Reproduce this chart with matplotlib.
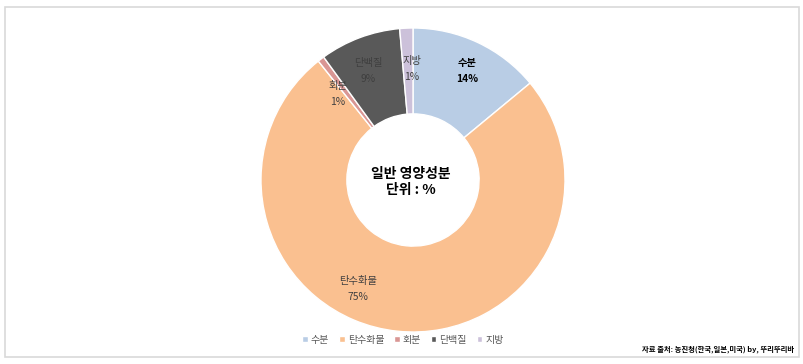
import matplotlib
matplotlib.use("Agg")
import matplotlib.pyplot as plt
from matplotlib.patches import Rectangle

plt.rcParams['font.family'] = ['Noto Sans CJK KR', 'DejaVu Sans']

# data
labels = ['수분', '탄수화물', '회분', '단백질', '지방']
values = [14, 75.3, 0.7, 8.6, 1.4]
colors = ['#B9CDE5', '#FAC090', '#D99694', '#595959', '#CCC1DA']
center_title = '일반 영양성분\n단위 : %'
source = '자료 출처: 농진청(한국,일본,미국) by, 뚜리뚜리바'

W, H = 804, 364
cx, cy, R = 413, 180, 152   # pie centre / radius in pixels

fig = plt.figure(figsize=(W / 100, H / 100), dpi=100)

# light grey frame around the chart area
fig.patches.append(Rectangle((5 / W, 7 / H), 794 / W, 350 / H, transform=fig.transFigure,
                             fill=False, edgecolor='#D9D9D9', lw=1.2))

ax = fig.add_axes([(cx - R) / W, (H - cy - R) / H, 2 * R / W, 2 * R / H])
wedges, _ = ax.pie(values, colors=colors, startangle=90, counterclock=False,
                   radius=1, wedgeprops=dict(width=0.565, edgecolor='white', linewidth=1))
ax.set_xlim(-1, 1)
ax.set_ylim(-1, 1)
ax.set_aspect('equal')
ax.axis('off')


def px(x, y):
    return (x - cx) / R, (cy - y) / R


# slice labels (name, percent) with their pixel positions
label_pos = [(467, 71), (358, 289), (338, 94), (368, 71), (412, 69)]
label_col = ['#000000', '#404040', '#404040', '#3F3F3F', '#404040']
label_bold = [True, False, False, False, False]
for name, v, (lx, ly), c, b in zip(labels, values, label_pos, label_col, label_bold):
    x, y = px(lx, ly)
    ax.text(x, y, f'{name}\n{v:.0f}%', ha='center', va='center', fontsize=7.4,
            color=c, fontweight='bold' if b else 'medium', linespacing=1.75)

x, y = px(411, 182)
ax.text(x, y, center_title, ha='center', va='center', fontsize=10,
        fontweight='bold', color='#000000', linespacing=1.2)

fig.legend(wedges, labels, loc='center', bbox_to_anchor=(403 / W, 1 - 340 / H), ncol=5,
           frameon=False, fontsize=7.2, handlelength=0.55, handleheight=0.55,
           handletextpad=0.3, columnspacing=1.0, labelcolor='#595959')

fig.text(794 / W, 1 - 349 / H, source, ha='right', va='center', fontsize=5.3,
         fontweight='bold', color='#000000')

fig.savefig('out.png', dpi=100)
